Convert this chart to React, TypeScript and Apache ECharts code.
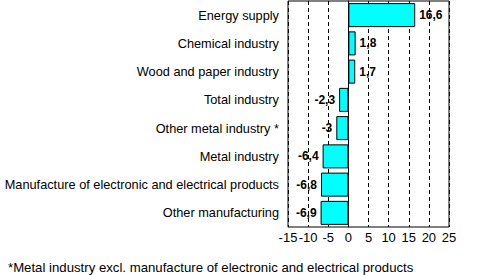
import React, { useEffect, useRef } from "react";
import * as echarts from "echarts";

const categories = [
  "Energy supply",
  "Chemical industry",
  "Wood and paper industry",
  "Total industry",
  "Other metal industry *",
  "Metal industry",
  "Manufacture of electronic and electrical products",
  "Other manufacturing",
];
const values = [16.6, 1.8, 1.7, -2.3, -3, -6.4, -6.8, -6.9];
const footnote = "*Metal industry excl. manufacture of electronic and electrical products";

const FONT = "'Liberation Sans', Arial, sans-serif";

export default function App() {
  const ref = useRef<HTMLDivElement>(null);
  useEffect(() => {
    if (!ref.current) return;
    const chart = echarts.init(ref.current, undefined, { renderer: "svg" });
    chart.setOption({
      animation: false,
      backgroundColor: "#ffffff",
      grid: {
        left: 288,
        top: 1,
        width: 161,
        height: 226,
        show: true,
        borderColor: "#000",
        borderWidth: 1,
        backgroundColor: "transparent",
      },
      xAxis: {
        type: "value",
        min: -15,
        max: 25,
        interval: 5,
        axisLine: { show: false },
        axisTick: { show: false },
        splitLine: { show: true, lineStyle: { type: [4, 3], color: "#000", width: 1 } },
        axisLabel: { color: "#000", fontSize: 13, fontFamily: FONT, margin: 4 },
      },
      yAxis: {
        type: "category",
        data: categories,
        inverse: true,
        axisLine: { show: true, onZero: true, lineStyle: { color: "#000", width: 1 } },
        axisTick: { show: false },
        axisLabel: {
          color: "#000",
          fontSize: 12.75,
          fontFamily: FONT,
          margin: 9,
          padding: [3, 0, 0, 0],
        },
      },
      series: [
        {
          type: "bar",
          data: values.map((v) => ({
            value: v,
            label: { position: v >= 0 ? "right" : "left" },
          })),
          barCategoryGap: "15%",
          itemStyle: { color: "#00ffff", borderColor: "#000", borderWidth: 1 },
          label: {
            show: true,
            distance: 4,
            color: "#000",
            fontSize: 12,
            fontWeight: "bold",
            fontFamily: FONT,
            formatter: (p: any) => String(p.value).replace(".", ","),
          },
        },
      ],
      graphic: [
        {
          type: "text",
          left: 8,
          top: 261,
          style: { text: footnote, fill: "#000", fontSize: 13.2, fontFamily: FONT },
        },
      ],
    });
    return () => chart.dispose();
  }, []);
  return (
    <div
      ref={ref}
      style={{ position: "fixed", left: 0, top: 0, width: 494, height: 275 }}
    />
  );
}
